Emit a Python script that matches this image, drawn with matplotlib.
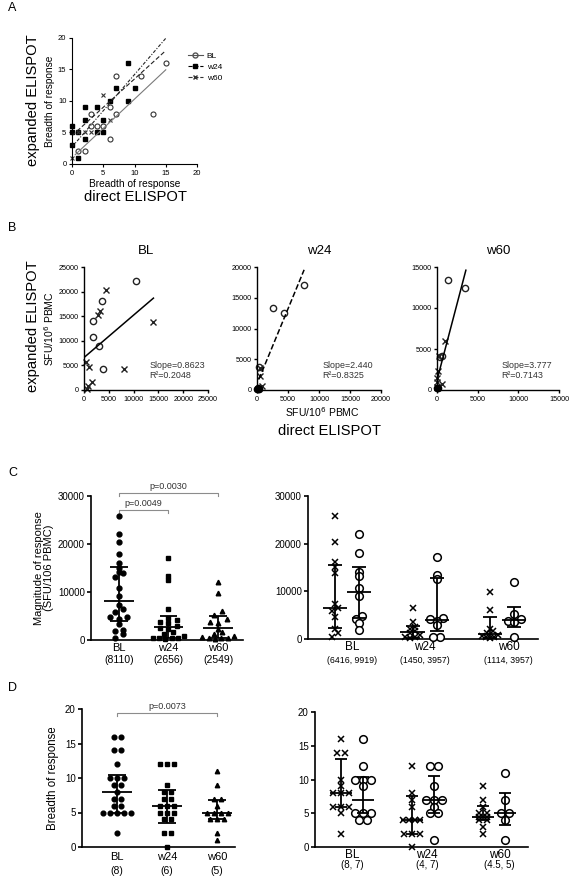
import matplotlib
matplotlib.use('Agg')
import matplotlib.pyplot as plt
from matplotlib.lines import Line2D
import numpy as np

plt.rcParams['font.family'] = ['Liberation Sans', 'DejaVu Sans']

# ---------------- data ----------------
# panel A: breadth, direct vs expanded
a_bl_x = [1, 2, 3, 3, 4, 5, 6, 6, 7, 7, 11, 13, 15]
a_bl_y = [2, 2, 8, 6, 6, 6, 4, 9, 14, 8, 14, 8, 16]
a_w24_x = [0, 0, 0, 1, 1, 2, 2, 2, 4, 4, 5, 5, 6, 7, 9, 9, 10]
a_w24_y = [6, 5, 3, 1, 5, 9, 7, 4, 9, 5, 5, 7, 10, 12, 16, 10, 12]
a_w60_x = [0, 1, 2, 3, 5, 6]
a_w60_y = [1, 5, 5, 5, 11, 7]
a_fit_slope = [0.93, 0.90, 1.15]
a_fit_icpt = [1.0, 4.5, 2.7]
a_fit_x0 = [0.5, 0, 0]

# panel B: magnitude, direct vs expanded (two subgroups: circles, crosses)
b_titles = ['BL', 'w24', 'w60']
b_o_x = [[1800, 1800, 3700, 10500, 3000, 3800],
         [7500, 4300, 2500, 300],
         [1400, 3500, 400, 600]]
b_o_y = [[14000, 10800, 18000, 22200, 9000, 4300],
         [17000, 12500, 13400, 3800],
         [13400, 12500, 4000, 4200]]
b_x_x = [[2800, 3300, 4500, 8000, 13900, 400, 1000, 1700, 900, 600],
         [500, 500, 800],
         [1000, 200, 100, 50, 20, 0, 600]]
b_x_y = [[15200, 16000, 20400, 4300, 13800, 5600, 4600, 1700, 900, 200],
         [3500, 2300, 600],
         [6000, 4100, 2300, 1500, 1000, 400, 700]]
b_dot_x = [[], [100, 200, 50, 300], [50, 100]]
b_dot_y = [[], [200, 300, 100, 150], [300, 200]]
b_slope = [0.8623, 2.440, 3.777]
b_slope_txt = ['0.8623', '2.440', '3.777']
b_icpt = [6600, 1000, 1200]
b_fit_range = [(0, 14000), (300, 7600), (0, 3550)]
b_max = [25000, 20000, 15000]
b_r2 = ['0.2048', '0.8325', '0.7143']
b_style = ['-', '--', '-']

# panel C: magnitude (SFU/10^6 PBMC), split by subgroup (crosses / circles)
groups = ['BL', 'w24', 'w60']
c_x_vals = [[25900, 20400, 16100, 15100, 13900, 7300, 6400, 5800, 4700, 2000, 1200, 500],
            [6400, 3600, 2600, 2200, 1700, 1200, 900, 500, 400, 200],
            [9800, 6000, 2200, 1600, 1200, 900, 700, 500, 400, 200]]
c_o_vals = [[22100, 18000, 14100, 13200, 10800, 9100, 4800, 4300, 3300, 1900],
            [17100, 13400, 12500, 4500, 4100, 3800, 2900, 500, 400],
            [12000, 5300, 4300, 3800, 3600, 500]]
c_all_med = [8110, 2656, 2549]
c_all_lo = [4000, 450, 400]
c_all_hi = [15300, 4900, 5000]
c_x_med = [6416, 1450, 1114]
c_x_lo = [2400, 300, 300]
c_x_hi = [15500, 2700, 4700]
c_o_med = [9919, 3957, 3957]
c_o_lo = [4400, 1700, 2500]
c_o_hi = [15070, 12900, 6800]
c_left_counts = ['(8110)', '(2656)', '(2549)']
c_right_counts = ['(6416, 9919)', '(1450, 3957)', '(1114, 3957)']

# panel D: breadth of response
d_all_vals = [[16, 16, 14, 14, 12, 10, 10, 10, 9, 9, 8, 7, 7, 6, 6, 5, 5, 5, 5, 5, 2],
              [12, 12, 12, 9, 8, 8, 7, 7, 6, 6, 6, 5, 5, 5, 4, 4, 2, 2, 0],
              [11, 9, 7, 7, 6, 5, 5, 5, 5, 4, 4, 4, 2, 1]]
d_all_med = [8, 6, 5]
d_all_lo = [5, 3.5, 4]
d_all_hi = [10.5, 8.2, 6.8]
d_x_vals = [[16, 14, 14, 10, 9, 8, 8, 8, 6, 6, 6, 5, 2],
            [12, 8, 7, 6, 4, 4, 4, 4, 2, 2, 2, 0],
            [9, 7, 6, 5, 5, 4.5, 4.5, 4, 4, 3, 2]]
d_o_vals = [[16, 12, 10, 10, 10, 9, 5, 5, 5, 4, 4],
            [12, 12, 9, 7, 7, 7, 6, 5, 5, 1],
            [11, 7, 5, 5, 4, 1]]
d_x_med = [8, 4, 4.5]
d_x_lo = [6, 2, 4]
d_x_hi = [13, 7.5, 6.1]
d_o_med = [7, 7, 5]
d_o_lo = [5, 5, 3.25]
d_o_hi = [10.3, 10.5, 8]
d_left_counts = ['(8)', '(6)', '(5)']
d_right_counts = ['(8, 7)', '(4, 7)', '(4.5, 5)']

# ---------------- helpers ----------------
W, H = 580, 876
fig = plt.figure(figsize=(5.8, 8.76), dpi=100)


def box(l, r, t, b):
    return [l / W, 1 - b / H, (r - l) / W, (b - t) / H]


def style(ax, lw=1.0, tl=3, fs=7):
    ax.spines['top'].set_visible(False)
    ax.spines['right'].set_visible(False)
    ax.spines['left'].set_linewidth(lw)
    ax.spines['bottom'].set_linewidth(lw)
    ax.tick_params(direction='out', length=tl, width=lw, labelsize=fs, pad=1.5)


def spread(vals, tol, step, half=0.3):
    # simple beeswarm: points with close values are laid side by side
    vals = np.asarray(vals, float)
    order = np.argsort(vals)
    offs = np.zeros(len(vals))
    cur = [order[0]]
    grps = []
    for i in order[1:]:
        if vals[i] - vals[cur[0]] <= tol:
            cur.append(i)
        else:
            grps.append(cur)
            cur = [i]
    grps.append(cur)
    for g in grps:
        n = len(g)
        st = step if n < 2 else min(step, 2 * half / (n - 1))
        o = (np.arange(n) - (n - 1) / 2) * st
        # alternate sides so neighbours in value are not all on one side
        idx = np.argsort(np.abs(o), kind='stable')
        offs[g] = o[idx]
    return offs


def medbar(ax, x, med, lo, hi, mw, cw, lw=1.3):
    kw = dict(color='k', lw=lw, zorder=4, solid_capstyle='butt')
    ax.plot([x, x], [lo, hi], **kw)
    ax.plot([x - mw, x + mw], [med, med], **kw)
    ax.plot([x - cw, x + cw], [lo, lo], **kw)
    ax.plot([x - cw, x + cw], [hi, hi], **kw)


def bracket(ax, x1, x2, y, h, text):
    ax.plot([x1, x1, x2, x2], [y - h, y, y, y - h], color='#8c8c8c', lw=0.8, clip_on=False)
    ax.text((x1 + x2) / 2, y + h * 0.6, text, ha='center', va='bottom', fontsize=6.5,
            color='#333333')


def cat_labels(ax, pos, names, counts, fs_name, fs_cnt, off_name, off_cnt):
    ax.set_xticks([])
    for p, n, c in zip(pos, names, counts):
        ax.annotate(n, (p, 0), xycoords=('data', 'axes fraction'), xytext=(0, -off_name),
                    textcoords='offset points', ha='center', va='top', fontsize=fs_name)
        ax.annotate(c, (p, 0), xycoords=('data', 'axes fraction'), xytext=(0, -off_cnt),
                    textcoords='offset points', ha='center', va='top', fontsize=fs_cnt)


# ---------------- panel A ----------------
fig.text(8 / W, 1 - 8 / H, 'A', fontsize=9, va='center')
axA = fig.add_axes(box(72, 197, 38, 164))
style(axA, lw=0.8, tl=2.5, fs=5.5)
axA.plot(a_bl_x, a_bl_y, 'o', mfc='none', mec='#333333', ms=3.6, mew=0.8, clip_on=False)
axA.plot(a_w24_x, a_w24_y, 's', color='k', ms=3.2, clip_on=False)
axA.plot(a_w60_x, a_w60_y, 'x', color='#333333', ms=3, mew=0.8, clip_on=False)
a_ls = ['-', (0, (4, 2)), (0, (3, 1.5, 1, 1.5))]
a_col = ['#7a7a7a', '#222222', '#222222']
for s, c, x0, ls, col in zip(a_fit_slope, a_fit_icpt, a_fit_x0, a_ls, a_col):
    xx = np.array([x0, 15])
    axA.plot(xx, s * xx + c, ls=ls, color=col, lw=0.8)
axA.set_xlim(0, 20)
axA.set_ylim(0, 20)
axA.set_xticks([0, 5, 10, 15, 20])
axA.set_yticks([0, 5, 10, 15, 20])
axA.set_xlabel('Breadth of response', fontsize=7.3, labelpad=2)
axA.set_ylabel('Breadth of response', fontsize=7.3, labelpad=2)
handles = [Line2D([], [], ls='-', color='#555555', marker='o', mfc='none', ms=3.6, lw=0.8),
           Line2D([], [], ls='--', color='k', marker='s', ms=3.2, lw=0.8),
           Line2D([], [], ls='--', color='#333333', marker='x', ms=3, lw=0.8)]
fig.legend(handles, ['BL', 'w24', 'w60'], loc='upper left', bbox_to_anchor=(180 / W, 1 - 45 / H),
           frameon=False, fontsize=6, handlelength=1.8, labelspacing=0.35, handletextpad=0.5)
fig.text(33 / W, 1 - 100 / H, 'expanded ELISPOT', fontsize=10.6, rotation=90, ha='center', va='center')
fig.text(135 / W, 1 - 197 / H, 'direct ELISPOT', fontsize=10.6, ha='center', va='center')

# ---------------- panel B ----------------
fig.text(8 / W, 1 - 228 / H, 'B', fontsize=9, va='center')
b_boxes = [(84, 208), (257, 381), (437, 559)]
for i, (l, r) in enumerate(b_boxes):
    ax = fig.add_axes(box(l, r, 267, 390))
    style(ax, lw=1.0, tl=2.5, fs=5.2)
    ax.plot(b_o_x[i], b_o_y[i], 'o', mfc='none', mec='#222222', ms=4.5, mew=1.0, clip_on=False)
    ax.plot(b_x_x[i], b_x_y[i], 'x', color='#222222', ms=4.5, mew=1.0, clip_on=False)
    if b_dot_x[i]:
        ax.plot(b_dot_x[i], b_dot_y[i], 'o', color='k', ms=4.5, clip_on=False)
    xx = np.array(b_fit_range[i], float)
    ax.plot(xx, b_slope[i] * xx + b_icpt[i], ls=b_style[i], color='k', lw=1.1)
    ax.set_xlim(0, b_max[i])
    ax.set_ylim(0, b_max[i])
    ticks = np.arange(0, b_max[i] + 1, 5000)
    ax.set_xticks(ticks)
    ax.set_yticks(ticks)
    ax.set_title(b_titles[i], fontsize=9.5, pad=9)
    ax.text(0.53, 0.18, 'Slope=' + b_slope_txt[i], transform=ax.transAxes, fontsize=6.4, color='#333333')
    ax.text(0.53, 0.10, 'R\u00b2=' + b_r2[i], transform=ax.transAxes, fontsize=6.4, color='#333333')
    if i == 0:
        ax.set_ylabel('SFU/10$^6$ PBMC', fontsize=7.5, labelpad=2)
fig.text(33 / W, 1 - 326 / H, 'expanded ELISPOT', fontsize=10.6, rotation=90, ha='center', va='center')
fig.text(322 / W, 1 - 412 / H, 'SFU/10$^6$ PBMC', fontsize=7.5, ha='center', va='center')
fig.text(330 / W, 1 - 431 / H, 'direct ELISPOT', fontsize=10.6, ha='center', va='center')

# ---------------- panel C ----------------
fig.text(8 / W, 1 - 473 / H, 'C', fontsize=9, va='center')
c_markers = ['o', 's', '^']
axC = fig.add_axes(box(91, 243, 496, 640))
style(axC, lw=1.2, tl=3, fs=7)
for i in range(3):
    vals = c_x_vals[i] + c_o_vals[i]
    offs = spread(vals, 700, 0.17, half=0.32)
    axC.plot(i + offs, vals, c_markers[i], color='k', ms=3.5 if i < 2 else 3.3, clip_on=False, zorder=3)
    medbar(axC, i, c_all_med[i], c_all_lo[i], c_all_hi[i], 0.3, 0.18)
axC.set_xlim(-0.56, 2.5)
axC.set_ylim(0, 30000)
axC.set_yticks([0, 10000, 20000, 30000])
axC.set_ylabel('Magnitude of response\n(SFU/106 PBMC)', fontsize=8, labelpad=3, linespacing=1.0)
cat_labels(axC, [0, 1, 2], groups, c_left_counts, 8, 7.5, 2, 11)
bracket(axC, 0, 2, 30600, 650, 'p=0.0030')
bracket(axC, 0, 1, 27100, 650, 'p=0.0049')

axC2 = fig.add_axes(box(308, 538, 496, 639))
style(axC2, lw=1.2, tl=3, fs=7)
for i in range(3):
    xo = i - 0.155
    oo = i + 0.155
    axC2.plot(xo + spread(c_x_vals[i], 700, 0.07, half=0.1), c_x_vals[i], 'x', color='k', ms=5, mew=1.1,
              clip_on=False, zorder=3)
    axC2.plot(oo + spread(c_o_vals[i], 700, 0.08, half=0.1), c_o_vals[i], 'o', mfc='white', mec='k', ms=5.5,
              mew=1.1, clip_on=False, zorder=3)
    medbar(axC2, xo, c_x_med[i], c_x_lo[i], c_x_hi[i], 0.155, 0.09)
    medbar(axC2, oo, c_o_med[i], c_o_lo[i], c_o_hi[i], 0.155, 0.09)
axC2.set_xlim(-0.5, 2.46)
axC2.set_ylim(0, 30000)
axC2.set_yticks([0, 10000, 20000, 30000])
cat_labels(axC2, [0.07, 1.0, 2.08], groups, c_right_counts, 8.5, 6.3, 1.5, 12)

# ---------------- panel D ----------------
fig.text(8 / W, 1 - 688 / H, 'D', fontsize=9, va='center')
axD = fig.add_axes(box(82, 235, 709, 847))
style(axD, lw=1.2, tl=3, fs=7)
for i in range(3):
    vals = d_all_vals[i]
    offs = spread(vals, 0.2, 0.14, half=0.3)
    axD.plot(i + offs, vals, c_markers[i], color='k', ms=3.4 if i < 2 else 3.2, clip_on=False, zorder=3)
    medbar(axD, i, d_all_med[i], d_all_lo[i], d_all_hi[i], 0.3, 0.18)
axD.set_xlim(-0.7, 2.36)
axD.set_ylim(0, 20)
axD.set_yticks([0, 5, 10, 15, 20])
axD.set_ylabel('Breadth of response', fontsize=8.3, labelpad=4)
cat_labels(axD, [0, 1, 2], groups, d_left_counts, 8, 7.5, 3.5, 13.5)
bracket(axD, 0, 2, 19.4, 0.4, 'p=0.0073')

axD2 = fig.add_axes(box(315, 528, 712, 847))
style(axD2, lw=1.2, tl=3, fs=7)
for i in range(3):
    xo = i - 0.155
    oo = i + 0.155
    axD2.plot(xo + spread(d_x_vals[i], 0.3, 0.11, half=0.12), d_x_vals[i], 'x', color='k', ms=5, mew=1.1,
              clip_on=False, zorder=3)
    axD2.plot(oo + spread(d_o_vals[i], 0.3, 0.11, half=0.12), d_o_vals[i], 'o', mfc='white', mec='k', ms=5.5,
              mew=1.1, clip_on=False, zorder=3)
    medbar(axD2, xo, d_x_med[i], d_x_lo[i], d_x_hi[i], 0.155, 0.09)
    medbar(axD2, oo, d_o_med[i], d_o_lo[i], d_o_hi[i], 0.155, 0.09)
axD2.set_xlim(-0.52, 2.48)
axD2.set_ylim(0, 20)
axD2.set_yticks([0, 5, 10, 15, 20])
cat_labels(axD2, [0.0, 1.06, 2.08], groups, d_right_counts, 8.5, 7, 1.5, 9)

fig.savefig('out.png', dpi=100)
